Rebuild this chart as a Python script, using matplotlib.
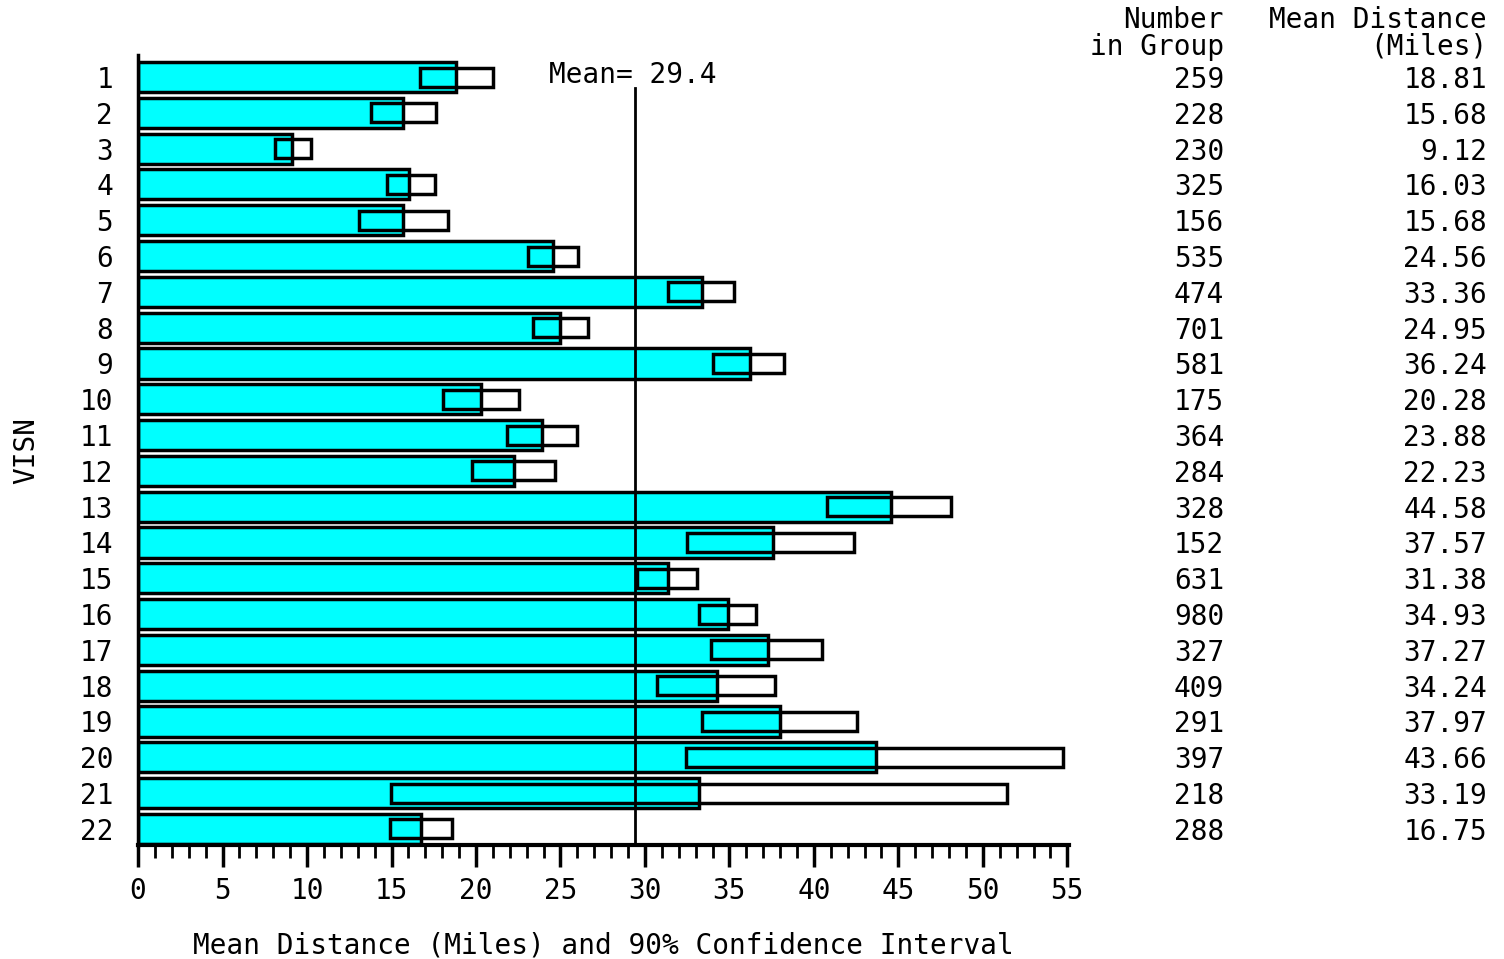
import numpy as np
import matplotlib.pyplot as plt
import matplotlib.transforms as mtransforms

plt.rcParams['font.family'] = 'DejaVu Sans Mono'

visn = list(range(1, 23))
n_group = [259, 228, 230, 325, 156, 535, 474, 701, 581, 175, 364,
           284, 328, 152, 631, 980, 327, 409, 291, 397, 218, 288]
mean_dist = [18.81, 15.68, 9.12, 16.03, 15.68, 24.56, 33.36, 24.95, 36.24, 20.28, 23.88,
             22.23, 44.58, 37.57, 31.38, 34.93, 37.27, 34.24, 37.97, 43.66, 33.19, 16.75]
ci_lo = [16.7, 13.8, 8.1, 14.75, 13.05, 23.05, 31.35, 23.35, 34.05, 18.05, 21.85,
         19.75, 40.8, 32.5, 29.5, 33.2, 33.9, 30.7, 33.35, 32.45, 14.95, 14.9]
ci_hi = [21.0, 17.65, 10.25, 17.55, 18.35, 26.05, 35.25, 26.65, 38.25, 22.55, 25.95,
         24.65, 48.1, 42.4, 33.1, 36.55, 40.5, 37.7, 42.55, 54.75, 51.45, 18.6]
overall_mean = 29.4

fs = 20

fig = plt.figure(figsize=(15.04, 9.59), dpi=100)
ax = fig.add_axes([0.0918, 0.1189, 0.6190, 0.8237])

y = np.array(visn)
ax.barh(y, mean_dist, height=0.84, color='#00ffff', edgecolor='k', lw=2.5, zorder=2)
ax.barh(y, np.array(ci_hi) - np.array(ci_lo), left=ci_lo, height=0.53,
        fill=False, edgecolor='k', lw=2.5, zorder=3)
ax.plot([overall_mean, overall_mean], [1.3, 22.45], color='k', lw=2, zorder=4)
ax.text(overall_mean - 0.1, 0.95, 'Mean= %.1f' % overall_mean, ha='center', va='center',
        fontsize=fs)

ax.set_xlim(0, 55.1)
ax.set_ylim(22.45, 0.385)
ax.set_xticks(np.arange(0, 56, 5))
ax.set_xticks(np.arange(0, 56, 1), minor=True)
ax.set_yticks(y)
ax.set_yticklabels([str(v) for v in visn])
ax.tick_params(axis='x', which='major', length=16, width=2.5, labelsize=fs, pad=7)
ax.tick_params(axis='x', which='minor', length=9, width=2)
ax.tick_params(axis='y', length=0, labelsize=fs, pad=18)
for s in ['top', 'right']:
    ax.spines[s].set_visible(False)
ax.spines['left'].set_linewidth(2.5)
ax.spines['bottom'].set_linewidth(3)

ax.set_xlabel('Mean Distance (Miles) and 90% Confidence Interval', fontsize=fs, labelpad=19)
ax.set_ylabel('VISN', fontsize=fs, labelpad=28)

tr = mtransforms.blended_transform_factory(fig.transFigure, ax.transData)
x1 = 1224 / 1504
x2 = 1487 / 1504
for yy, n, m in zip(y, n_group, mean_dist):
    ax.text(x1, yy + 0.08, str(n), transform=tr, ha='right', va='center', fontsize=fs)
    ax.text(x2, yy + 0.08, '%.2f' % m, transform=tr, ha='right', va='center', fontsize=fs)

fig.text(x1, 1 - 20 / 959, 'Number', ha='right', va='center', fontsize=fs)
fig.text(x1, 1 - 47 / 959, 'in Group', ha='right', va='center', fontsize=fs)
fig.text(x2, 1 - 20 / 959, 'Mean Distance', ha='right', va='center', fontsize=fs)
fig.text(x2, 1 - 47 / 959, '(Miles)', ha='right', va='center', fontsize=fs)

fig.savefig('out.png', dpi=100)
